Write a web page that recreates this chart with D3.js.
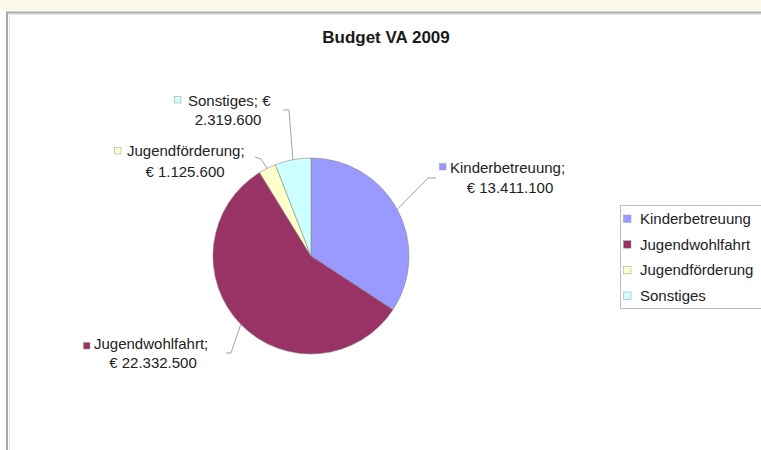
<!DOCTYPE html>
<html>
<head>
<meta charset="utf-8">
<script src="https://cdn.jsdelivr.net/npm/d3@7"></script>
<style>
  html, body { margin: 0; padding: 0; background: #ffffff; }
  svg { display: block; font-family: "Liberation Sans", Arial, Helvetica, sans-serif; }
</style>
</head>
<body>
<svg id="chart" width="761" height="450"></svg>
<script>
// ---- data ----
const title = "Budget VA 2009";
const categories = ["Kinderbetreuung", "Jugendwohlfahrt", "Jugendförderung", "Sonstiges"];
const values = [13411100, 22332500, 1125600, 2319600];
const valueLabels = ["€ 13.411.100", "€ 22.332.500", "€ 1.125.600", "€ 2.319.600"];
const colors = ["#9999ff", "#993366", "#ffffcc", "#ccffff"];

// ---- layout ----
const W = 761, H = 450;
const cx = 311, cy = 256, R = 98;
const svg = d3.select("#chart");

// top strip
svg.append("rect").attr("x", 0).attr("y", 0).attr("width", W).attr("height", 10).attr("fill", "#fdf9ea");
// frame
svg.append("rect").attr("x", 7).attr("y", 12.5).attr("width", W + 20).attr("height", H + 20)
  .attr("fill", "#ffffff").attr("stroke", "#a8a8a8").attr("stroke-width", 2);
svg.append("rect").attr("x", 9.5).attr("y", 14.5).attr("width", W + 20).attr("height", H + 20)
  .attr("fill", "none").attr("stroke", "#e2e2e2").attr("stroke-width", 1);

// title
svg.append("text").attr("x", 386).attr("y", 43).attr("text-anchor", "middle")
  .attr("font-size", 17).attr("font-weight", "bold").attr("fill", "#1a1a1a").text(title);

// pie
const data = categories.map((c, i) => ({ name: c, value: values[i], label: valueLabels[i], color: colors[i] }));
const pie = d3.pie().value(d => d.value).sort(null).startAngle(0).endAngle(2 * Math.PI);
const arcs = pie(data);
const arc = d3.arc().innerRadius(0).outerRadius(R);
const outerPt = d3.arc().innerRadius(R).outerRadius(R);

const g = svg.append("g").attr("transform", `translate(${cx},${cy})`);
g.selectAll("path").data(arcs).enter().append("path")
  .attr("d", arc).attr("fill", d => d.data.color)
  .attr("stroke", "#8a8a8a").attr("stroke-width", 0.6);

// data label layout (square/text position and leader start), per category
const labelLayout = [
  { sq: [439, 163], tx: 450, y1: 173, c2: 510, y2: 193, lead: [[436, 178], [428, 178]] , sep: ";" },
  { sq: [83, 342], tx: 94, y1: 349, c2: 153, y2: 368, lead: [[226, 353], [231, 353]], sep: ";" },
  { sq: [114, 147], tx: 127, y1: 156, c2: 185, y2: 177, lead: [[255, 157], [261, 159]], sep: ";" },
  { sq: [174, 96], tx: 188, y1: 106, c2: 228, y2: 125, lead: [[283, 110], [289, 110]], sep: ";" }
];

arcs.forEach((a, i) => {
  const L = labelLayout[i];
  const p = outerPt.centroid(a);
  const end = [cx + p[0], cy + p[1]];
  const pts = L.lead.concat([end]);
  svg.append("path").attr("d", d3.line()(pts)).attr("fill", "none")
    .attr("stroke", "#8c8c8c").attr("stroke-width", 0.8);
  svg.append("rect").attr("x", L.sq[0] + 0.5).attr("y", L.sq[1] + 0.5).attr("width", 6.5).attr("height", 6.5)
    .attr("fill", a.data.color).attr("stroke", "#9a9a9a").attr("stroke-width", 0.5);
  let line1, line2;
  if (i === 3) {
    // Sonstiges wraps after the euro sign
    const parts = a.data.label.split(" ");
    line1 = a.data.name + L.sep + " " + parts[0];
    line2 = parts.slice(1).join(" ");
  } else {
    line1 = a.data.name + L.sep;
    line2 = a.data.label;
  }
  svg.append("text").attr("x", L.tx).attr("y", L.y1).attr("font-size", 15).attr("fill", "#222").text(line1);
  svg.append("text").attr("x", L.c2).attr("y", L.y2).attr("font-size", 15).attr("fill", "#222")
    .attr("text-anchor", "middle").text(line2);
});

// legend
const lg = svg.append("g");
lg.append("rect").attr("x", 620.5).attr("y", 205.5).attr("width", 200).attr("height", 103)
  .attr("fill", "#ffffff").attr("stroke", "#bdbdbd").attr("stroke-width", 1);
const ly = d3.scalePoint().domain(categories).range([219, 296]);
categories.forEach((c, i) => {
  lg.append("rect").attr("x", 623.5).attr("y", ly(c) - 4).attr("width", 7.5).attr("height", 7.5)
    .attr("fill", colors[i]).attr("stroke", "#9a9a9a").attr("stroke-width", 0.5);
  lg.append("text").attr("x", 640).attr("y", ly(c) + 5).attr("font-size", 15).attr("fill", "#222").text(c);
});
</script>
</body>
</html>
